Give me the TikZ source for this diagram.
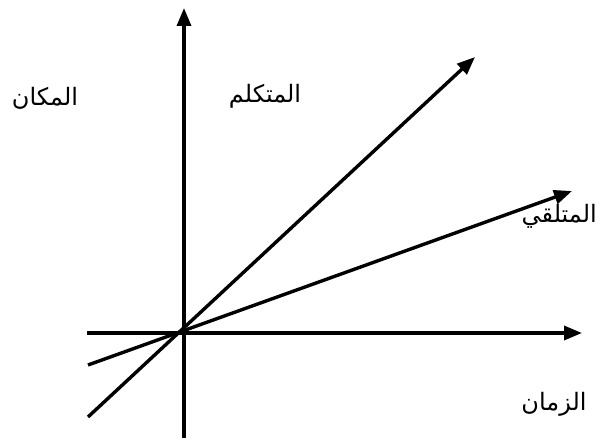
\documentclass[tikz,border=0pt]{standalone}
\usepackage{fontspec}
\newfontfamily\arabicfont[Script=Arabic]{DejaVu Sans}
\TeXXeTstate=1
\usetikzlibrary{arrows.meta}
\begin{document}
\begin{tikzpicture}[x=1pt,y=-1pt,
  axisline/.style={line width=3.4pt,-{Triangle[length=18pt,width=14pt]}},
  lbl/.style={font=\arabicfont\fontsize{24}{28}\selectfont,inner sep=0pt}]
\useasboundingbox (0,0) rectangle (600,441);
\coordinate (xl) at (87,333);
\coordinate (xr) at (582,333);
\coordinate (yb) at (184,438);
\coordinate (yt) at (184,8);
\coordinate (aL) at (88,417);
\coordinate (aR) at (475,57);
\coordinate (bL) at (88,365);
\coordinate (bR) at (572,191);
\draw[axisline] (xl) -- (xr);
\draw[axisline] (yb) -- (yt);
\draw[axisline] (aL) -- (aR);
\draw[axisline] (bL) -- (bR);
\node[lbl] (makan) at (45,98) {\beginR المكان\endR};
\node[lbl] (mutakallim) at (265,96) {\beginR المتكلم\endR};
\node[lbl,anchor=east] (mutalaqqi) at (597,216) {\beginR المتلقي\endR};
\node[lbl] (zaman) at (554,404) {\beginR الزمان\endR};
\end{tikzpicture}
\end{document}
